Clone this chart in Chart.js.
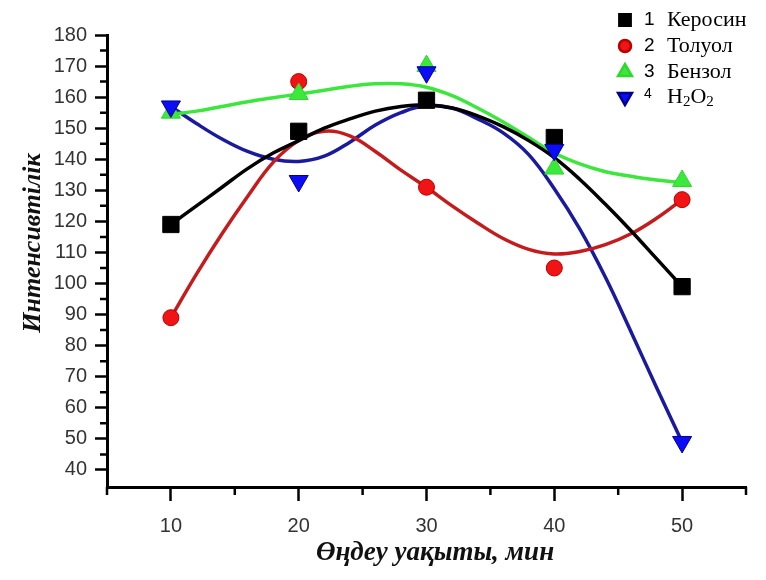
<!DOCTYPE html>
<html>
<head>
<meta charset="utf-8">
<title>Интенсивтілік</title>
<script src="https://cdn.jsdelivr.net/npm/chart.js@4.4.1/dist/chart.umd.min.js"></script>
<style>
  html, body { margin: 0; padding: 0; background: #fff; }
  #wrap { width: 766px; height: 580px; position: relative; }
</style>
</head>
<body>
<div id="wrap"><canvas id="intensity-chart"></canvas></div>
<script>
// Measured points
const times = [10, 20, 30, 40, 50];
const kerosene = [119, 149, 159, 147, 99];
const toluene = [89, 165, 131, 105, 127];
const benzene = [155, 161, 170, 137, 133];
const peroxide = [157, 133, 168, 143, 49];

// Smoothed fit curves
const fitTimes = [10, 12, 14, 16, 18, 20, 22, 24, 26, 28, 30, 32, 34, 36, 38, 40, 42, 44, 46, 48, 50];
const keroseneFit = [119, 125, 131, 137, 142, 146, 150, 153, 155.5, 157, 157.5, 156.5, 154, 150.5, 146, 140.5, 133.5, 125.5, 117, 108, 99];
const tolueneFit = [89, 103, 116, 128, 139, 146, 149, 147.5, 142.5, 136.5, 131, 125, 119.5, 114.5, 111, 109.5, 110.3, 112.5, 116, 121, 127];
const benzeneFit = [154.5, 155.5, 157, 158.5, 159.8, 161, 162.2, 163.5, 164.3, 164.3, 163.2, 160.5, 156.5, 152, 147, 142, 138.5, 136, 134.5, 133.3, 132.5];
const peroxideFit = [157, 151.5, 146.5, 142.5, 140, 139.3, 141, 145.5, 151, 155, 157.3, 156.5, 153, 148.5, 141.5, 130.5, 117.5, 102, 84.5, 66.5, 49];

// Axis ticks
const xTicks = [10, 20, 30, 40, 50];
const xMinor = [5, 15, 25, 35, 45, 55];
const yTicks = [40, 50, 60, 70, 80, 90, 100, 110, 120, 130, 140, 150, 160, 170, 180];
const yMinor = [45, 55, 65, 75, 85, 95, 105, 115, 125, 135, 145, 155, 165, 175];

const seriesNames = ['Керосин', 'Толуол', 'Бензол', 'H2O2'];

const toPoints = (xs, ys) => xs.map((x, i) => ({ x, y: ys[i] }));

const serif = '"Liberation Serif", "DejaVu Serif", serif';
const sans = '"Liberation Sans", Arial, sans-serif';

const markers = [
  { data: kerosene, style: 'rect', radius: 11.5, rotation: 0, fill: '#000000', border: '#000000' },
  { data: toluene, style: 'circle', radius: 8, rotation: 0, fill: '#f01414', border: '#b80000' },
  { data: benzene, style: 'triangle', radius: 11, rotation: 0, fill: '#3be83b', border: '#2fd82f' },
  { data: peroxide, style: 'triangle', radius: 11, rotation: 180, fill: '#0c0cf5', border: '#000090' },
];

const curves = [
  { data: keroseneFit, color: '#000000' },
  { data: tolueneFit, color: '#c41c1c' },
  { data: benzeneFit, color: '#3de63d' },
  { data: peroxideFit, color: '#1a1a9e' },
];

const datasets = [];
markers.forEach((m, i) => {
  datasets.push({
    label: seriesNames[i],
    data: toPoints(times, m.data),
    showLine: false,
    pointStyle: m.style,
    pointRotation: m.rotation,
    pointRadius: m.radius,
    pointBackgroundColor: m.fill,
    pointBorderColor: m.border,
    pointBorderWidth: 1,
    order: 4 - i,
  });
});
curves.forEach((c, i) => {
  datasets.push({
    label: seriesNames[i] + ' fit',
    data: toPoints(fitTimes, c.data),
    showLine: true,
    borderColor: c.color,
    borderWidth: 3.5,
    pointRadius: 0,
    tension: 0.4,
    order: 10,
  });
});

// Minor ticks, axis titles and the legend box
const decorations = {
  id: 'decorations',
  afterDraw(chart) {
    const { ctx, chartArea, scales: { x, y } } = chart;
    ctx.save();
    ctx.strokeStyle = '#000';
    ctx.lineWidth = 2.5;
    ctx.beginPath();
    xMinor.forEach((v) => {
      const px = x.getPixelForValue(v);
      ctx.moveTo(px, chartArea.bottom);
      ctx.lineTo(px, chartArea.bottom + 8);
    });
    yMinor.forEach((v) => {
      const py = y.getPixelForValue(v);
      ctx.moveTo(chartArea.left - 7, py);
      ctx.lineTo(chartArea.left, py);
    });
    ctx.stroke();

    // axis titles
    ctx.fillStyle = '#111';
    ctx.font = `italic bold 27px ${serif}`;
    ctx.textAlign = 'center';
    ctx.textBaseline = 'middle';
    ctx.fillText('Өңдеу уақыты, мин', 435, 553);
    ctx.font = `italic bold 26px ${serif}`;
    ctx.save();
    ctx.translate(33, 243);
    ctx.rotate(-Math.PI / 2);
    ctx.fillText('Интенсивтілік', 0, 0);
    ctx.restore();

    // legend
    const rowY = [20, 46, 72, 97];
    ctx.textAlign = 'left';
    markers.forEach((m, i) => {
      ctx.fillStyle = m.fill;
      ctx.strokeStyle = m.border;
      Chart.helpers.drawPoint(ctx, {
        pointStyle: m.style,
        radius: m.style === 'circle' ? 6 : 8,
        rotation: m.rotation,
        borderWidth: 1,
      }, 625, rowY[i]);
      ctx.fillStyle = '#000';
      ctx.font = `${i === 3 ? 14 : 19}px ${sans}`;
      ctx.fillText(String(i + 1), 644, rowY[i] - (i === 3 ? 3 : 0));
      ctx.font = `22px ${serif}`;
      if (seriesNames[i] === 'H2O2') {
        let px = 667;
        ['H', '2', 'O', '2'].forEach((part) => {
          const sub = part === '2';
          ctx.font = `${sub ? 15 : 22}px ${serif}`;
          ctx.fillText(part, px, rowY[i] + (sub ? 5 : 0));
          px += ctx.measureText(part).width;
        });
      } else {
        ctx.fillText(seriesNames[i], 667, rowY[i]);
      }
    });
    ctx.restore();
  },
};

new Chart(document.getElementById('intensity-chart'), {
  type: 'scatter',
  data: { datasets },
  options: {
    responsive: true,
    maintainAspectRatio: false,
    animation: false,
    layout: { padding: { top: 35, right: 20, left: 0, bottom: 0 } },
    plugins: {
      legend: { display: false },
      tooltip: { enabled: false },
    },
    scales: {
      x: {
        type: 'linear',
        min: 5,
        max: 55,
        afterBuildTicks: (scale) => { scale.ticks = xTicks.map((value) => ({ value })); },
        afterFit: (scale) => { scale.height = 93; },
        grid: {
          drawOnChartArea: false,
          drawTicks: true,
          tickLength: 14,
          tickWidth: 2.5,
          tickColor: '#000',
        },
        border: { color: '#000', width: 3 },
        ticks: {
          color: '#333',
          padding: 13,
          font: { family: sans, size: 20 },
          maxRotation: 0,
        },
      },
      y: {
        type: 'linear',
        min: 34.5,
        max: 180,
        afterBuildTicks: (scale) => { scale.ticks = yTicks.map((value) => ({ value })); },
        afterFit: (scale) => { scale.width = 107; },
        grid: {
          drawOnChartArea: false,
          drawTicks: true,
          tickLength: 12,
          tickWidth: 2.5,
          tickColor: '#000',
        },
        border: { color: '#000', width: 3 },
        ticks: {
          color: '#333',
          padding: 8,
          font: { family: sans, size: 20 },
        },
      },
    },
  },
  plugins: [decorations],
});
</script>
</body>
</html>
